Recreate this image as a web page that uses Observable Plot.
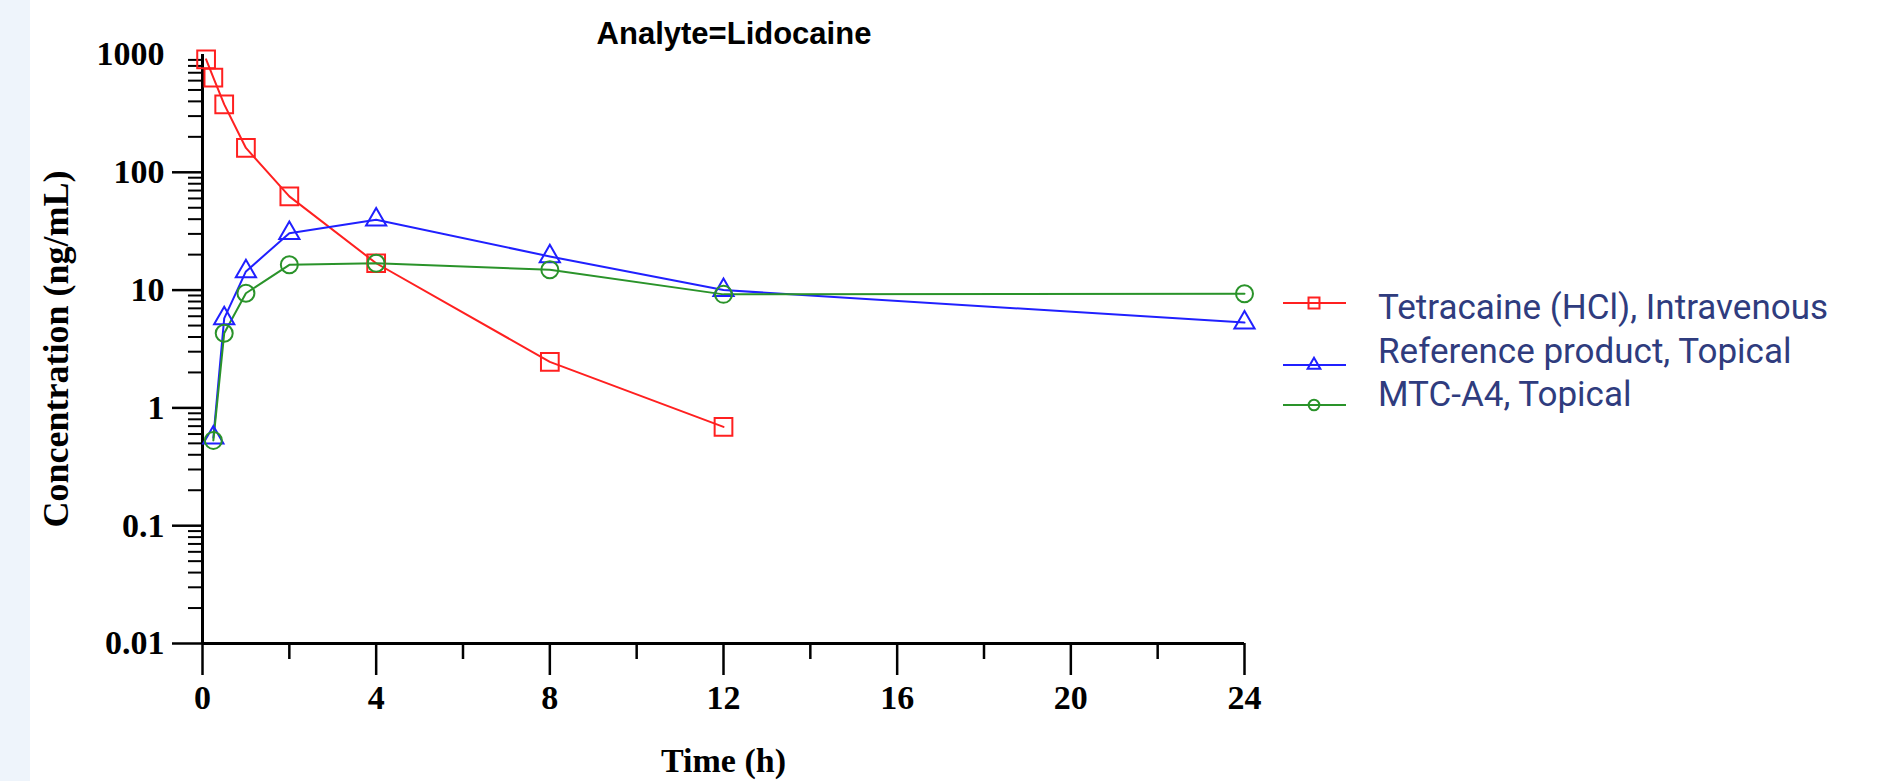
<!DOCTYPE html>
<html>
<head>
<meta charset="utf-8">
<script src="https://cdn.jsdelivr.net/npm/d3@7"></script>
<script src="https://cdn.jsdelivr.net/npm/@observablehq/plot@0.6"></script>
<style>
  html, body { margin: 0; padding: 0; background: #ffffff; }
  body { width: 1889px; height: 781px; position: relative; overflow: hidden; }
  #strip { position: absolute; left: 0; top: 0; width: 30px; height: 781px; background: #eef4fb; }
  #chart { position: absolute; left: 0; top: 0; }
  #chart svg { background: transparent !important; overflow: visible; }
  #chart svg text { font-family: "Liberation Serif", "Times New Roman", serif; font-weight: bold; font-size: 34px; fill: #000; }
  #chart svg g[aria-label="y-axis label"] text { font-size: 36px; }
  #title { position: absolute; left: 334px; width: 800px; top: 18px; text-align: center;
           font: bold 31px/31px "Liberation Sans", Arial, sans-serif; color: #000; }
  #legendText { position: absolute; left: 1378px; top: 286px; font-family: Roboto, sans-serif; font-weight: 400;
                font-size: 35px; line-height: 43.5px; color: #2f3c7e; white-space: nowrap; }
  #legendSym { position: absolute; left: 1270px; top: 280px; }
</style>
</head>
<body>
<div id="strip"></div>
<div id="chart"></div>
<div id="title"></div>
<svg id="legendSym" width="90" height="140"></svg>
<div id="legendText"></div>
<script>
// ---- data ----
const chartTitle = "Analyte=Lidocaine";
const xLabel = "Time (h)";
const yLabel = "Concentration (ng/mL)";

const seriesNames = ["Tetracaine (HCl), Intravenous", "Reference product, Topical", "MTC-A4, Topical"];
const seriesColors = ["#ff2020", "#2020ff", "#2a932a"];
const seriesSymbols = ["square", "triangle", "circle"];
const seriesRadius = [10, 7.5, 8.5];

const tetraTime = [0.083, 0.25, 0.5, 1, 2, 4, 8, 12];
const tetraConc = [910, 635, 377, 161, 62.5, 16.9, 2.46, 0.69];

const refTime = [0.25, 0.5, 1, 2, 4, 8, 12, 24];
const refConc = [0.56, 5.75, 14.4, 30.4, 39.6, 19.3, 10.0, 5.3];

const mtcTime = [0.25, 0.5, 1, 2, 4, 8, 12, 24];
const mtcConc = [0.53, 4.3, 9.4, 16.4, 16.9, 14.9, 9.2, 9.3];

const xMajorTicks = [0, 4, 8, 12, 16, 20, 24];
const xMinorTicks = [2, 6, 10, 14, 18, 22];
const yMajorTicks = [0.01, 0.1, 1, 10, 100];
const yTopTick = [1000];
const yDecades = [0.01, 0.1, 1, 10, 100];
const yMinorTicks = yDecades.flatMap(d => [2, 3, 4, 5, 6, 7, 8, 9].map(m => +(m * d).toPrecision(3)));

// ---- build table ----
const seriesTimes = [tetraTime, refTime, mtcTime];
const seriesConcs = [tetraConc, refConc, mtcConc];
const data = seriesNames.flatMap((name, s) =>
  seriesTimes[s].map((t, i) => ({series: name, time: t, conc: seriesConcs[s][i]})));

const width = 1889, height = 781;
const marks = [
  Plot.ruleY([0.01], {strokeWidth: 3}),
  Plot.ruleX([0], {strokeWidth: 3}),
  Plot.axisX(xMajorTicks, {tickSize: 32, tickPadding: 9, strokeWidth: 2.5, tickFormat: d => String(d),
    label: xLabel, labelAnchor: "center", labelOffset: 128, labelArrow: "none"}),
  Plot.axisX(xMinorTicks, {tickSize: 16, strokeWidth: 2.5, tickFormat: () => "", label: null}),
  Plot.axisY(yMajorTicks, {tickSize: 30, tickPadding: 8, strokeWidth: 2.5, tickFormat: d => String(d),
    label: yLabel, labelAnchor: "center", labelOffset: 160, labelArrow: "none"}),
  Plot.axisY(yTopTick, {tickSize: 0, tickPadding: 38, tickFormat: d => String(d), label: null}),
  Plot.axisY(yMinorTicks, {tickSize: 14, strokeWidth: 2, tickFormat: () => "", label: null}),
  Plot.line(data, {x: "time", y: "conc", z: "series", stroke: "series", strokeWidth: 2})
];
seriesNames.forEach((name, s) => {
  marks.push(Plot.dot(data.filter(d => d.series === name), {
    x: "time", y: "conc", stroke: "series", symbol: () => seriesSymbols[s],
    r: seriesRadius[s], strokeWidth: 2, fill: "none"
  }));
});

const chart = Plot.plot({
  width, height,
  marginLeft: 202, marginRight: 645, marginTop: 54, marginBottom: 138,
  x: {domain: [0, 24]},
  y: {type: "log", domain: [0.01, 1000]},
  color: {domain: seriesNames, range: seriesColors},
  symbol: {domain: seriesSymbols, range: seriesSymbols},
  style: {background: "transparent", overflow: "visible"},
  marks
});
document.getElementById("chart").appendChild(chart);
document.getElementById("title").textContent = chartTitle;

// ---- legend ----
document.getElementById("legendText").innerHTML = seriesNames.map(n => `<div>${n}</div>`).join("");
const lg = d3.select("#legendSym");
const symY = [23, 85, 125];
seriesNames.forEach((n, s) => {
  lg.append("line").attr("x1", 13).attr("x2", 76).attr("y1", symY[s]).attr("y2", symY[s])
    .attr("stroke", seriesColors[s]).attr("stroke-width", 2);
  lg.append("path").attr("transform", `translate(44,${symY[s]})`)
    .attr("d", d3.symbol(s === 0 ? d3.symbolSquare : s === 1 ? d3.symbolTriangle : d3.symbolCircle, s === 0 ? 120 : s === 1 ? 70 : 90)())
    .attr("fill", "none").attr("stroke", seriesColors[s]).attr("stroke-width", 2);
});
</script>
</body>
</html>
